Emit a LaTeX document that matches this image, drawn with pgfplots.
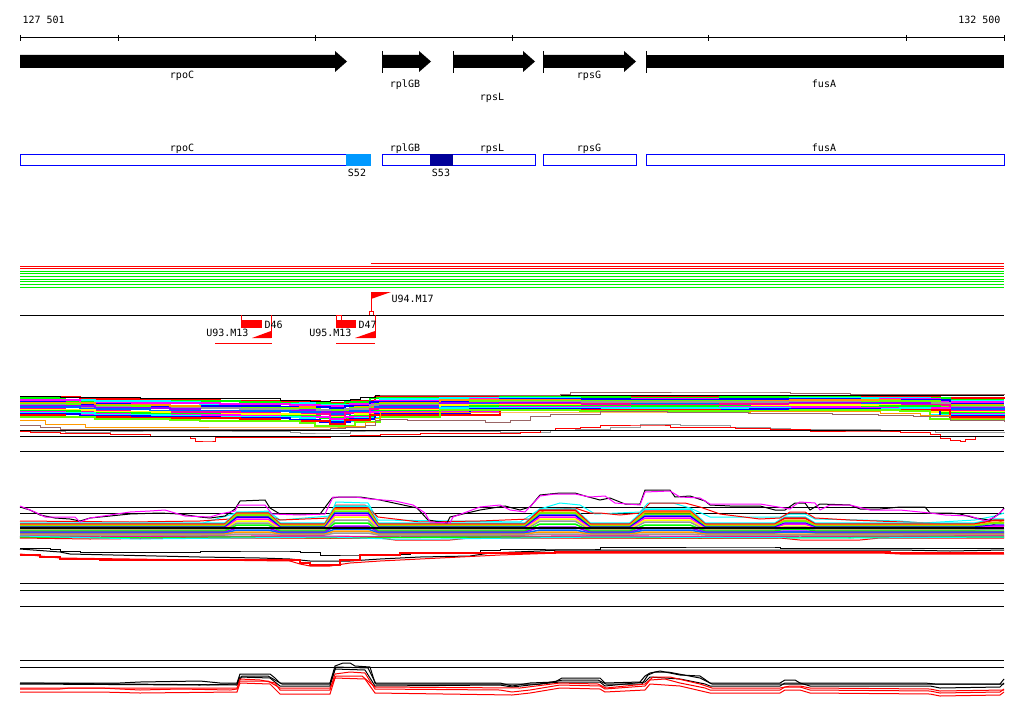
\documentclass[border=0pt]{standalone}
\usepackage{fontspec}
\usepackage{pgfplots}
\pgfplotsset{compat=1.18}
\newfontfamily\pixf{DejaVu Sans Mono}
\newcommand\pix{\pixf\fontsize{10}{10}\selectfont}

\definecolor{cR}{HTML}{FF0000}
\definecolor{cG}{HTML}{00FF00}
\definecolor{cGt}{HTML}{00EE00}
\definecolor{cB}{HTML}{0000FF}
\definecolor{cLB}{HTML}{0099FF}
\definecolor{cNV}{HTML}{000099}
\definecolor{cC}{HTML}{00FFFF}
\definecolor{cM}{HTML}{FF00FF}
\definecolor{cO}{HTML}{FF9900}
\definecolor{cY}{HTML}{FFFF00}
\definecolor{cGy}{HTML}{999999}
\definecolor{cBr}{HTML}{996666}
\definecolor{cV}{HTML}{9900FF}
\definecolor{cAz}{HTML}{0066FF}
\definecolor{cL}{HTML}{66FF00}
\definecolor{cP}{HTML}{FF0099}

\pgfplotsset{
  hl/.style={black, line width=1pt},
  b4/.style={const plot, line width=1.6pt},
  b5/.style={sharp plot, line width=1.5pt},
  ln/.style={sharp plot, line width=1pt},
  st/.style={const plot, line width=1pt},
}

\begin{document}
\begin{tikzpicture}
\begin{axis}[
  scale only axis, width=1024pt, height=714pt,
  xmin=0, xmax=1024, ymin=0, ymax=714, y dir=reverse,
  hide axis, clip=false,
]
% page background
\addplot[fill=white, draw=none] coordinates {(0,0)(1024,0)(1024,714)(0,714)} -- cycle;

% ---- ruler
\addplot[hl] coordinates {(20,38)(1004,38)};
\addplot[hl] coordinates {(20,35)(20,41)};
\addplot[hl] coordinates {(118,35)(118,41)};
\addplot[hl] coordinates {(315,35)(315,41)};
\addplot[hl] coordinates {(512,35)(512,41)};
\addplot[hl] coordinates {(708,35)(708,41)};
\addplot[hl] coordinates {(906,35)(906,41)};
\addplot[hl] coordinates {(1004,35)(1004,41)};
\node[font=\pix, anchor=base west] at (axis cs:19,24) {127 501};
\node[font=\pix, anchor=base east] at (axis cs:1004,24) {132 500};

% ---- gene arrows
\addplot[fill=black, draw=none] coordinates {(20,55)(335,55)(335,51)(347,61.5)(335,72)(335,68)(20,68)} -- cycle;
\addplot[fill=black, draw=none] coordinates {(382,55)(419,55)(419,51)(431,61.5)(419,72)(419,68)(382,68)} -- cycle;
\addplot[fill=black, draw=none] coordinates {(453,55)(523,55)(523,51)(535,61.5)(523,72)(523,68)(453,68)} -- cycle;
\addplot[fill=black, draw=none] coordinates {(543,55)(624,55)(624,51)(636,61.5)(624,72)(624,68)(543,68)} -- cycle;
\addplot[fill=black, draw=none] coordinates {(646,55)(1004,55)(1004,68)(646,68)} -- cycle;
\addplot[hl] coordinates {(382,51)(382,73)};
\addplot[hl] coordinates {(453,51)(453,73)};
\addplot[hl] coordinates {(543,51)(543,73)};
\addplot[hl] coordinates {(646,51)(646,73)};
\node[font=\pix, anchor=base] at (axis cs:182,79) {rpoC};
\node[font=\pix, anchor=base] at (axis cs:405,88) {rplGB};
\node[font=\pix, anchor=base] at (axis cs:492,101) {rpsL};
\node[font=\pix, anchor=base] at (axis cs:589,79) {rpsG};
\node[font=\pix, anchor=base] at (axis cs:824,88) {fusA};

% ---- gene boxes
\addplot[draw=cB, line width=1pt] coordinates {(20,155)(346,155)(346,166)(20,166)} -- cycle;
\addplot[draw=cB, line width=1pt] coordinates {(382,155)(535,155)(535,166)(382,166)} -- cycle;
\addplot[draw=cB, line width=1pt] coordinates {(543,155)(636,155)(636,166)(543,166)} -- cycle;
\addplot[draw=cB, line width=1pt] coordinates {(646,155)(1004,155)(1004,166)(646,166)} -- cycle;
\addplot[fill=cLB, draw=none] coordinates {(346,154.5)(371,154.5)(371,166.5)(346,166.5)} -- cycle;
\addplot[fill=cNV, draw=none] coordinates {(430,154.5)(453,154.5)(453,166.5)(430,166.5)} -- cycle;
\node[font=\pix, anchor=base] at (axis cs:182,152) {rpoC};
\node[font=\pix, anchor=base] at (axis cs:405,152) {rplGB};
\node[font=\pix, anchor=base] at (axis cs:492,152) {rpsL};
\node[font=\pix, anchor=base] at (axis cs:589,152) {rpsG};
\node[font=\pix, anchor=base] at (axis cs:824,152) {fusA};
\node[font=\pix, anchor=base] at (axis cs:357,176) {S52};
\node[font=\pix, anchor=base] at (axis cs:441,176) {S53};

% ---- red / green lines
\addplot[cR, line width=1pt] coordinates {(371,263)(1004,263)};
\addplot[cR, line width=1pt] coordinates {(20,266)(1004,266)};
\addplot[cR, line width=1pt] coordinates {(20,268.5)(1004,268.5)};
\addplot[cGt, line width=1pt] coordinates {(20,271)(1004,271)};
\addplot[cGt, line width=1pt] coordinates {(20,273.7)(1004,273.7)};
\addplot[cGt, line width=1pt] coordinates {(20,276.3)(1004,276.3)};
\addplot[cGt, line width=1pt] coordinates {(20,279)(1004,279)};
\addplot[cGt, line width=1pt] coordinates {(20,281.7)(1004,281.7)};
\addplot[cGt, line width=1pt] coordinates {(20,284.3)(1004,284.3)};
\addplot[cGt, line width=1pt] coordinates {(20,287)(1004,287)};

% ---- markers
\addplot[cR, line width=1pt] coordinates {(371,292)(371,311)};
\addplot[fill=cR, draw=none] coordinates {(371,292)(391,292)(371,299)} -- cycle;
\addplot[cR, line width=0.8pt] coordinates {(369,311)(373.5,311)(373.5,315)(369,315)} -- cycle;
\node[font=\pix, anchor=base west] at (axis cs:388,302) {U94.M17};
\addplot[hl] coordinates {(20,315)(1004,315)};
% D46
\addplot[cR, line width=1pt] coordinates {(241,315)(241,320)};
\addplot[cR, line width=1pt] coordinates {(271,315)(271,338)};
\addplot[fill=cR, draw=none] coordinates {(241,320)(262,320)(262,327.5)(241,327.5)} -- cycle;
\addplot[fill=cR, draw=none] coordinates {(252,338)(271,338)(271,331)} -- cycle;
\addplot[cR, line width=1pt] coordinates {(215,343)(272,343)};
\node[font=\pix, anchor=base west] at (axis cs:261,328) {D46};
\node[font=\pix, anchor=base east] at (axis cs:252,336) {U93.M13};
% D47
\addplot[cR, line width=0.8pt] coordinates {(336,315)(341.5,315)(341.5,320)(336,320)} -- cycle;
\addplot[cR, line width=1pt] coordinates {(375,315)(375,338)};
\addplot[fill=cR, draw=none] coordinates {(336,320)(356,320)(356,327.5)(336,327.5)} -- cycle;
\addplot[fill=cR, draw=none] coordinates {(355,338)(375,338)(375,331)} -- cycle;
\addplot[cR, line width=1pt] coordinates {(336,343)(375,343)};
\node[font=\pix, anchor=base west] at (axis cs:355,328) {D47};
\node[font=\pix, anchor=base east] at (axis cs:355,336) {U95.M13};

% ---- track 4: stepped profiles
\addplot[b4, cR] coordinates {(20,397)(80,399)(150,400)(220,401)(290,401)(320,403)(350,401)(375,397)(470,396)(600,396)(750,396)(880,397)(940,398)(1004,399)};
\addplot[b4, cG] coordinates {(20,398)(65,401)(130,401)(240,402)(280,403)(330,404)(345,402)(370,398)(500,397)(630,398)(720,397)(860,398)(950,400)(1004,400)};
\addplot[b4, cC] coordinates {(20,400)(95,401)(170,402)(200,404)(300,403)(315,405)(355,404)(380,399)(440,398)(580,399)(790,398)(900,398)(930,401)(1004,401)};
\addplot[b4, cM] coordinates {(20,400)(80,403)(150,403)(220,404)(290,405)(320,406)(350,404)(375,401)(470,399)(600,399)(750,400)(880,399)(940,402)(1004,402)};
\addplot[b4, cB] coordinates {(20,402)(65,404)(130,406)(240,406)(280,407)(330,408)(345,406)(370,402)(500,399)(630,400)(720,399)(860,400)(950,404)(1004,404)};
\addplot[b4, cO] coordinates {(20,403)(95,405)(170,406)(200,408)(300,407)(315,410)(355,407)(380,403)(440,400)(580,401)(790,400)(900,401)(930,405)(1004,405)};
\addplot[b4, cL] coordinates {(20,404)(80,406)(150,408)(220,408)(290,409)(320,410)(350,408)(375,404)(470,401)(600,401)(750,402)(880,401)(940,406)(1004,406)};
\addplot[b4, cGy] coordinates {(20,405)(65,407)(130,408)(240,409)(280,410)(330,412)(345,409)(370,405)(500,402)(630,402)(720,402)(860,403)(950,407)(1004,408)};
\addplot[b4, cV] coordinates {(20,406)(95,408)(170,409)(200,411)(300,410)(315,412)(355,411)(380,406)(440,403)(580,404)(790,403)(900,403)(930,408)(1004,409)};
\addplot[b4, cAz] coordinates {(20,407)(80,409)(150,411)(220,411)(290,412)(320,414)(350,411)(375,407)(470,404)(600,404)(750,404)(880,405)(940,409)(1004,410)};
\addplot[b4, cP] coordinates {(20,409)(65,411)(130,412)(240,413)(280,414)(330,416)(345,413)(370,409)(500,404)(630,405)(720,404)(860,405)(950,411)(1004,412)};
\addplot[b4, cY] coordinates {(20,410)(95,412)(170,414)(200,414)(300,415)(315,417)(355,414)(380,410)(440,405)(580,406)(790,405)(900,406)(930,412)(1004,413)};
\addplot[b4, cG] coordinates {(20,411)(80,413)(150,414)(220,416)(290,416)(320,418)(350,416)(375,411)(470,406)(600,406)(750,407)(880,406)(940,413)(1004,414)};
\addplot[b4, cM] coordinates {(20,412)(65,414)(130,415)(240,416)(280,417)(330,419)(345,417)(370,412)(500,407)(630,408)(720,407)(860,408)(950,414)(1004,415)};
\addplot[b4, cC] coordinates {(20,413)(95,415)(170,416)(200,417)(300,418)(315,421)(355,418)(380,413)(440,408)(580,408)(790,409)(900,408)(930,415)(1004,416)};
\addplot[b4, cB] coordinates {(20,414)(80,416)(150,417)(220,418)(290,420)(320,422)(350,419)(375,414)(470,409)(600,410)(750,409)(880,410)(940,416)(1004,418)};
\addplot[b4, cR] coordinates {(20,415)(65,417)(130,418)(240,419)(280,421)(330,424)(345,420)(370,415)(500,410)(630,410)(720,411)(860,410)(950,417)(1004,419)};
\addplot[b4, cL] coordinates {(20,417)(95,419)(170,420)(200,421)(300,423)(315,426)(355,422)(380,417)(440,410)(580,411)(790,410)(900,411)(930,419)(1004,421)};
\addplot[st, black] coordinates {(20,396)(60,397)(140,398)(280,400)(310,401)(330,400)(350,399)(360,397)(375,395)(1004,395)};
\addplot[st, cBr] coordinates {(380,395)(560,394)(570,392)(770,392)(790,393)(850,394)(1004,395)};
\addplot[st, cO] coordinates {(20,420)(45,424)(85,427)(330,427)(345,426)(365,422)(375,418)(380,412)(600,412)(750,411)(880,413)(920,415)(950,418)(1004,418)};
\addplot[st, cBr] coordinates {(20,425)(40,427)(60,429)(330,428)(345,427)(365,425)(375,420)(380,419)(407,420)(485,422)(510,420)(530,416)(550,414)(600,411)(667,412)(748,413)(832,414)(878,415)(913,416)(950,420)(1004,422)};
\addplot[st, cGy] coordinates {(20,431)(65,432)(110,431)(175,431)(290,432)(300,433)(330,433)(350,431)(380,431)(500,432)(550,430)(575,429)(610,427)(640,424)(680,425)(730,427)(770,428)(790,429)(880,431)(900,430)(935,432)(1004,433)};
\addplot[st, cR] coordinates {(20,431)(30,432)(60,433)(110,434)(150,436)(190,438)(195,441)(210,441)(215,437)(330,436)(350,435)(380,434)(420,433)(520,432)(540,430)(555,428)(580,427)(600,425)(660,425)(670,427)(735,428)(770,429)(810,431)(880,431)(900,432)(930,434)(940,438)(950,440)(960,441)(965,439)(975,436)(1004,436)};
\addplot[hl] coordinates {(20,430)(1004,430)};
\addplot[hl] coordinates {(20,436)(1004,436)};
\addplot[hl] coordinates {(20,451)(1004,451)};

% ---- track 5
\addplot[hl] coordinates {(20,507)(1004,507)};
\addplot[hl] coordinates {(20,513)(1004,513)};
\addplot[ln, cC] coordinates {(20,525)(200,524)(236,513)(268,511)(280,520)(330,516)(336,502)(368,503)(378,520)(520,522)(540,509)(560,503)(580,505)(595,514)(640,512)(648,503)(673,503)(690,508)(710,517)(780,517)(790,514)(805,514)(815,519)(900,521)(923,523)(975,520)(995,516)(1004,513)};
\addplot[ln, cR] coordinates {(20,521)(130,522)(200,521)(230,519)(240,516)(270,516)(280,520)(330,518)(336,505)(365,505)(378,517)(420,522)(480,521)(530,519)(545,510)(575,508)(590,513)(600,513)(620,515)(640,513)(650,503)(685,503)(700,507)(720,514)(760,519)(780,518)(790,512)(805,512)(815,518)(850,520)(930,523)(960,527)(990,526)(1004,520)};
\addplot[b5, cC] coordinates {(20,523)(225,523)(237,512)(268,512)(280,523)(325,523)(335,506)(368,506)(378,523)(525,523)(540,509)(575,509)(590,523)(630,523)(645,509)(690,509)(705,523)(775,523)(785,517)(805,517)(815,523)(975,523)(995,519)(1004,519)};
\addplot[b5, cR] coordinates {(20,524)(225,524)(237,513)(268,513)(280,524)(325,524)(335,508)(368,508)(378,524)(525,524)(540,510)(575,510)(590,524)(630,524)(645,511)(690,511)(705,524)(775,524)(785,518)(805,518)(815,524)(975,524)(995,520)(1004,520)};
\addplot[b5, cO] coordinates {(20,525)(225,525)(237,514)(268,514)(280,525)(325,525)(335,509)(368,509)(378,525)(525,525)(540,512)(575,512)(590,525)(630,525)(645,512)(690,512)(705,525)(775,525)(785,520)(805,520)(815,525)(975,525)(995,522)(1004,522)};
\addplot[b5, cL] coordinates {(20,526)(225,526)(237,515)(268,515)(280,526)(325,526)(335,511)(368,511)(378,526)(525,526)(540,513)(575,513)(590,526)(630,526)(645,514)(690,514)(705,526)(775,526)(785,521)(805,521)(815,526)(975,526)(995,523)(1004,523)};
\addplot[b5, cB] coordinates {(20,527)(225,527)(237,517)(268,517)(280,527)(325,527)(335,513)(368,513)(378,527)(525,527)(540,515)(575,515)(590,527)(630,527)(645,516)(690,516)(705,527)(775,527)(785,523)(805,523)(815,527)(975,527)(995,525)(1004,525)};
\addplot[b5, cM] coordinates {(20,528)(225,528)(237,519)(268,519)(280,528)(325,528)(335,515)(368,515)(378,528)(525,528)(540,517)(575,517)(590,528)(630,528)(645,518)(690,518)(705,528)(775,528)(785,524)(805,524)(815,528)(975,528)(995,526)(1004,526)};
\addplot[b5, cY] coordinates {(20,529)(225,529)(237,521)(268,521)(280,529)(325,529)(335,517)(368,517)(378,529)(525,529)(540,519)(575,519)(590,529)(630,529)(645,520)(690,520)(705,529)(775,529)(785,526)(805,526)(815,529)(975,529)(995,528)(1004,528)};
\addplot[b5, cGy] coordinates {(20,530)(225,530)(237,523)(268,523)(280,530)(325,530)(335,520)(368,520)(378,530)(525,530)(540,521)(575,521)(590,530)(630,530)(645,522)(690,522)(705,530)(775,530)(785,527)(805,527)(815,530)(975,530)(995,529)(1004,529)};
\addplot[b5, cG] coordinates {(20,531)(225,531)(237,525)(268,525)(280,531)(325,531)(335,523)(368,523)(378,531)(525,531)(540,524)(575,524)(590,531)(630,531)(645,525)(690,525)(705,531)(775,531)(785,529)(805,529)(815,531)(1004,531)};
\addplot[b5, cV] coordinates {(20,532)(225,532)(237,528)(268,528)(280,532)(325,532)(335,526)(368,526)(378,532)(525,532)(540,527)(575,527)(590,532)(630,532)(645,528)(690,528)(705,532)(775,532)(785,531)(805,531)(815,532)(1004,532)};
\addplot[b5, cAz] coordinates {(20,533)(225,533)(237,530)(268,530)(280,533)(325,533)(335,529)(368,529)(378,533)(525,533)(540,530)(575,530)(590,533)(630,533)(645,530)(690,530)(705,533)(775,533)(785,532)(805,532)(815,533)(1004,533)};
\addplot[b5, cO] coordinates {(20,534)(225,534)(237,532)(268,532)(280,534)(325,534)(335,531)(368,531)(378,534)(525,534)(540,532)(575,532)(590,534)(630,534)(645,532)(690,532)(705,534)(1004,534)};
\addplot[b5, cGy] coordinates {(20,535)(225,535)(237,534)(268,534)(280,535)(325,535)(335,533)(368,533)(378,535)(525,535)(540,534)(575,534)(590,535)(630,535)(645,534)(690,534)(705,535)(1004,535)};
\addplot[b5, cP] coordinates {(20,536)(100,537)(300,536)(400,537)(600,536)(800,537)(1004,536)};
\addplot[b5, cG] coordinates {(20,537)(140,538)(230,537)(330,538)(450,537)(700,538)(1004,537)};
\addplot[ln, cR] coordinates {(20,538)(90,539)(210,538)(380,538)(395,540)(450,540)(470,538)(780,538)(800,540)(860,540)(880,538)(1004,538)};
\addplot[ln, cC] coordinates {(20,536)(140,539)(230,538)(330,537)(390,539)(440,539)(600,537)(850,538)(1004,537)};
\addplot[black, line width=1.3pt] coordinates {(20,528)(1004,528)};
\addplot[ln, black] coordinates {(20,507)(30,510)(40,515)(55,518)(70,519)(80,521)(90,518)(130,514)(160,513)(180,514)(200,517)(210,518)(225,516)(235,509)(240,501)(265,500)(270,508)(280,514)(320,514)(332,498)(340,497)(360,497)(380,500)(417,508)(428,520)(447,523)(450,517)(480,510)(505,506)(520,510)(530,507)(540,495)(560,493)(575,493)(585,496)(600,500)(610,498)(625,504)(640,504)(645,490)(670,490)(675,497)(690,496)(705,501)(710,505)(730,506)(760,506)(775,510)(785,510)(795,503)(805,503)(810,510)(820,504)(850,505)(860,509)(880,509)(900,507)(925,507)(930,513)(950,513)(960,514)(975,518)(990,520)(1000,513)(1004,508)};
\addplot[ln, cM] coordinates {(20,506)(35,512)(45,517)(75,517)(80,522)(90,518)(130,512)(150,511)(165,510)(185,516)(210,517)(220,514)(235,511)(238,505)(265,505)(272,514)(300,515)(325,514)(333,497)(355,497)(370,499)(395,501)(413,505)(425,513)(430,522)(450,523)(453,517)(480,507)(500,505)(510,510)(525,512)(540,496)(555,494)(575,494)(590,497)(605,496)(615,503)(640,505)(645,492)(670,491)(680,497)(700,498)(710,504)(760,504)(790,509)(795,505)(800,502)(815,503)(820,510)(830,505)(850,505)(870,510)(900,510)(930,513)(945,515)(970,516)(985,521)(995,517)(1004,509)};
\addplot[st, black] coordinates {(20,548)(50,549)(60,551)(80,552)(200,551)(280,551)(300,552)(320,555)(360,555)(380,554)(410,552)(460,552)(480,550)(500,549)(590,549)(600,547)(770,547)(780,548)(1004,548)};
\addplot[ln, black] coordinates {(20,549)(60,552)(70,554)(200,557)(260,558)(290,559)(310,561)(350,561)(380,559)(420,557)(470,556)(490,553)(540,551)(560,550)(900,550)(950,551)(1004,550)};
\addplot[st, cR, line width=1.5pt] coordinates {(20,555)(40,557)(60,559)(100,560)(290,560)(300,563)(310,565)(330,565)(340,560)(360,555)(400,553)(500,553)(555,552)(880,552)(890,553)(1004,553)};
\addplot[ln, cR] coordinates {(20,554)(40,556)(60,558)(200,560)(290,561)(300,564)(310,566)(330,566)(350,563)(380,561)(420,559)(460,557)(500,555)(560,553)(880,553)(900,554)(1004,554)};
\addplot[hl] coordinates {(20,583)(1004,583)};
\addplot[hl] coordinates {(20,590)(1004,590)};
\addplot[hl] coordinates {(20,606)(1004,606)};

% ---- track 6
\addplot[hl] coordinates {(20,660)(1004,660)};
\addplot[hl] coordinates {(20,667)(1004,667)};
\addplot[ln, black] coordinates {(20,683)(120,683)(140,682)(200,681)(220,683)(237,683)(240,674)(270,674)(275,678)(280,683)(330,683)(335,666)(343,663)(350,663)(355,666)(370,667)(375,683)(500,683)(512,686)(530,683)(555,682)(562,678)(600,678)(605,683)(640,682)(645,676)(650,673)(660,671)(680,675)(700,676)(710,683)(780,683)(785,680)(795,680)(800,683)(925,683)(935,684)(1000,684)(1004,679)};
\addplot[ln, black] coordinates {(20,684)(200,685)(237,684)(240,677)(270,678)(280,686)(330,686)(335,669)(365,670)(375,686)(500,685)(512,687)(530,685)(560,682)(600,682)(605,686)(645,682)(650,677)(680,679)(705,684)(710,686)(780,686)(785,683)(800,683)(810,686)(930,686)(940,688)(1000,687)(1004,683)};
\addplot[ln, black] coordinates {(20,683)(120,684)(237,685)(242,676)(268,676)(282,684)(330,684)(336,667)(368,668)(376,684)(540,684)(563,680)(598,680)(606,684)(642,684)(648,675)(655,672)(668,672)(700,678)(712,684)(1004,684)};
\addplot[ln, cR] coordinates {(20,689)(60,689)(70,688)(100,688)(140,690)(180,689)(230,690)(237,689)(240,679)(260,680)(275,683)(280,690)(330,690)(335,674)(350,672)(365,673)(375,689)(500,690)(512,692)(530,690)(560,685)(600,686)(605,689)(645,686)(650,680)(665,679)(680,683)(705,688)(710,690)(780,690)(785,687)(800,687)(810,690)(930,691)(940,693)(1000,692)(1004,689)};
\addplot[ln, cR] coordinates {(20,692)(100,692)(140,693)(237,692)(240,683)(270,684)(280,694)(330,694)(335,678)(365,679)(375,693)(512,695)(530,693)(560,688)(600,689)(605,692)(645,690)(650,684)(680,686)(710,693)(780,693)(785,690)(800,690)(810,693)(930,694)(940,696)(1000,695)(1004,692)};
\addplot[ln, cR] coordinates {(20,688)(237,688)(240,681)(268,681)(280,688)(330,688)(336,676)(362,676)(375,687)(520,688)(560,683)(598,684)(606,688)(645,684)(653,677)(670,677)(700,684)(712,688)(780,688)(790,686)(800,686)(810,688)(930,689)(940,691)(1004,690)};
\end{axis}
\end{tikzpicture}
\end{document}
